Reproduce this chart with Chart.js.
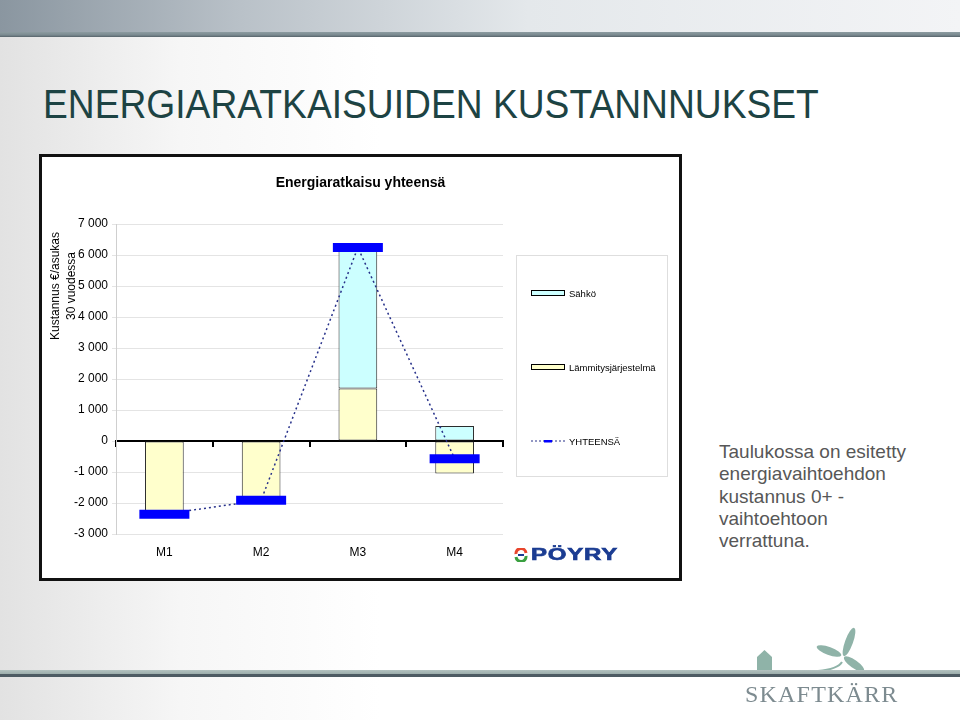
<!DOCTYPE html>
<html>
<head>
<meta charset="utf-8">
<script src="https://cdn.jsdelivr.net/npm/chart.js@4"></script>
<style>
  html, body { margin: 0; padding: 0; }
  body {
    width: 960px; height: 720px; position: relative; overflow: hidden;
    font-family: "Liberation Sans", Arial, sans-serif;
    background: linear-gradient(to right, #e2e2e2 0px, #f6f6f6 180px, #ffffff 380px);
  }
  .topband {
    position: absolute; left: 0; top: 0; width: 960px; height: 32px;
    background: linear-gradient(to right, #8a96a0 0%, #b9c1c8 25%, #e4e8eb 55%, #f3f4f6 100%);
  }
  .topline {
    position: absolute; left: 0; top: 32px; width: 960px; height: 5px;
    background: linear-gradient(to bottom, #8c9ba0 0, #7a8a90 60%, #56636a 100%);
  }
  .slide-title {
    position: absolute; left: 43px; top: 84px; font-size: 40px; line-height: 1;
    color: #1d4343; white-space: nowrap; transform: scaleX(0.93); transform-origin: left top;
  }
  .chart-box {
    position: absolute; left: 39px; top: 154px; width: 643px; height: 427px;
    border: 3px solid #111; box-sizing: border-box; background: #fff;
  }
  .chart-box canvas { position: absolute; left: 0; top: 0; }
  .ytitle {
    position: absolute; left: -49px; top: 113px; width: 140px; height: 32px;
    font-size: 12px; line-height: 16px; text-align: center; color: #000;
    transform: rotate(-90deg);
  }
  .legend {
    position: absolute; left: 474px; top: 98px; width: 152px; height: 222px;
    border: 1px solid #dedede; box-sizing: border-box;
  }
  .legend .item {
    position: absolute; left: 14px; height: 14px; display: flex; align-items: center;
    font-size: 9.5px; color: #000; white-space: nowrap;
  }
  .legend .sw { width: 34px; height: 6px; border: 1px solid #000; box-sizing: border-box; margin-right: 4px; }
  .poyry { position: absolute; left: 472px; top: 389px; height: 18px; display: flex; align-items: center; }
  .poyry span {
    font-size: 16px; font-weight: bold; color: #1b3c92; letter-spacing: 0.5px;
    -webkit-text-stroke: 0.6px #1b3c92;
    display: inline-block; transform: scaleX(1.5); transform-origin: left center; margin-left: 3px;
  }
  .note {
    position: absolute; left: 719px; top: 441px; font-size: 19px; line-height: 22.3px; color: #575757;
  }
  .bottomline {
    position: absolute; left: 0; top: 670px; width: 960px; height: 7px;
    background: linear-gradient(to bottom, #b3c2c0 0, #9fb0ae 50%, #4d5b63 60%, #4d5b63 100%);
  }
  .skaft {
    position: absolute; left: 745px; top: 682px; font-family: "Liberation Serif", "DejaVu Serif", serif;
    font-size: 24px; line-height: 1; color: #7d8b90; letter-spacing: 1.2px;
  }
</style>
</head>
<body>
<div class="topband"></div>
<div class="topline"></div>
<div class="slide-title">ENERGIARATKAISUIDEN KUSTANNNUKSET</div>

<div class="chart-box">
  <canvas id="chart" width="637" height="421"></canvas>
  <div class="ytitle">Kustannus €/asukas<br>30 vuodessa</div>
  <div class="legend" id="legend"></div>
  <div class="poyry">
    <svg width="14" height="14" viewBox="0 0 14 14">
      <path d="M2 6 A5 5 0 0 1 12 5" stroke="#e8452c" stroke-width="3" fill="none"/>
      <path d="M12 8 A5 5 0 0 1 2 9" stroke="#3aa040" stroke-width="3" fill="none"/>
      <path d="M4 7 L10 7" stroke="#1b3c92" stroke-width="2"/>
    </svg>
    <span>PÖYRY</span>
  </div>
</div>

<div class="note">Taulukossa on esitetty<br>energiavaihtoehdon<br>kustannus 0+ -<br>vaihtoehtoon<br>verrattuna.</div>

<svg style="position:absolute;left:0;top:0" width="960" height="720">
  <polygon points="757,670 757,657 764.5,650 772,657 772,670" fill="#8fb3a8"/>
  <path d="M842 662 Q838 669 818 671" stroke="#8fb3a8" stroke-width="2" fill="none"/>
  <ellipse cx="849" cy="642" rx="4" ry="15" fill="#8fb3a8" transform="rotate(20 849 642)"/>
  <ellipse cx="829" cy="651" rx="13" ry="4" fill="#8fb3a8" transform="rotate(20 829 651)"/>
  <ellipse cx="854" cy="664" rx="12" ry="4" fill="#8fb3a8" transform="rotate(35 854 664)"/>
</svg>
<div class="bottomline"></div>
<div class="skaft">SKAFTKÄRR</div>

<script>
// ======== Data ========
const categories = ["M1", "M2", "M3", "M4"];
const sahko = [0, 0, 4550, 480];
const lammitys = [-2360, -1910, 1690, -1050];
const yhteensa = [-2360, -1910, 6240, -570];

const seriesNames = ["Sähkö", "Lämmitysjärjestelmä", "YHTEENSÄ"];
const seriesColors = ["#ccffff", "#ffffcc", "#0000ff"];
const lineColor = "#26308a";

const yMin = -3000;
const yMax = 7000;
const yStep = 1000;

function formatThousands(v) {
  const s = String(Math.abs(v)).replace(/\B(?=(\d{3})+(?!\d))/g, " ");
  return (v < 0 ? "-" : "") + s;
}

// ======== Chart ========
const ctx = document.getElementById("chart").getContext("2d");
new Chart(ctx, {
  type: "bar",
  data: {
    labels: categories,
    datasets: [
      {
        type: "line",
        label: seriesNames[2],
        data: yhteensa,
        stack: "total",
        order: 0,
        borderColor: lineColor,
        borderWidth: 1.5,
        borderDash: [2, 3],
        tension: 0,
        fill: false,
        pointStyle: "line",
        pointRadius: 25,
        pointHoverRadius: 25,
        pointBorderWidth: 9,
        pointBorderColor: seriesColors[2],
        pointBackgroundColor: seriesColors[2],
      },
      {
        label: seriesNames[1],
        data: lammitys,
        stack: "parts",
        order: 1,
        backgroundColor: seriesColors[1],
        borderColor: "#2b2b2b",
        borderWidth: 1,
        borderSkipped: false,
      },
      {
        label: seriesNames[0],
        data: sahko,
        stack: "parts",
        order: 2,
        backgroundColor: seriesColors[0],
        borderColor: "#2b2b2b",
        borderWidth: 1,
        borderSkipped: false,
      },
    ],
  },
  options: {
    responsive: false,
    animation: false,
    devicePixelRatio: 1,
    barPercentage: 0.4,
    categoryPercentage: 1,
    layout: { padding: 0 },
    plugins: {
      legend: { display: false },
      tooltip: { enabled: false },
      title: {
        display: true,
        text: "Energiaratkaisu yhteensä",
        color: "#000",
        font: { family: "Liberation Sans", size: 14, weight: "bold" },
        padding: { top: 17.6, bottom: 32.6 },
      },
    },
    scales: {
      x: {
        stacked: true,
        grid: { display: false, drawTicks: false },
        border: { display: false },
        ticks: { color: "#000", padding: 11, font: { family: "Liberation Sans", size: 12 } },
        afterFit: (scale) => { scale.height = 44; },
      },
      x2: {
        type: "category",
        position: { y: 0 },
        offset: true,
        grid: { offset: true, drawOnChartArea: false, color: "#000", lineWidth: 2, tickLength: 5 },
        border: { color: "#000", width: 2 },
        ticks: { display: false },
      },
      y: {
        stacked: true,
        min: yMin,
        max: yMax,
        grid: {
          color: "#e4e4e4",
          tickLength: 4,
        },
        border: { color: "#cfcfcf" },
        ticks: {
          stepSize: yStep,
          color: "#000",
          padding: 4,
          font: { family: "Liberation Sans", size: 12 },
          callback: (v) => formatThousands(v),
        },
        afterFit: (scale) => { scale.width = 74; },
      },
      y2: {
        type: "linear",
        position: "right",
        grid: { display: false },
        border: { display: false },
        ticks: { display: false },
        afterFit: (scale) => { scale.width = 176; },
      },
    },
  },
});

// ======== Legend ========
const legendEl = document.getElementById("legend");
const legendRows = [
  { name: seriesNames[0], color: seriesColors[0], top: 30 },
  { name: seriesNames[1], color: seriesColors[1], top: 104 },
  { name: seriesNames[2], color: seriesColors[2], top: 178, line: true },
];
legendRows.forEach((r) => {
  const item = document.createElement("div");
  item.className = "item";
  item.style.top = r.top + "px";
  if (r.line) {
    item.innerHTML =
      '<svg width="34" height="6" style="margin-right:4px">' +
      '<line x1="0" y1="3" x2="34" y2="3" stroke="' + lineColor + '" stroke-width="1.2" stroke-dasharray="2,2"/>' +
      '<rect x="13" y="2" width="8" height="2.5" fill="' + r.color + '"/></svg>';
  } else {
    const sw = document.createElement("div");
    sw.className = "sw";
    sw.style.background = r.color;
    item.appendChild(sw);
  }
  const t = document.createElement("span");
  t.textContent = r.name;
  item.appendChild(t);
  legendEl.appendChild(item);
});
</script>
</body>
</html>
